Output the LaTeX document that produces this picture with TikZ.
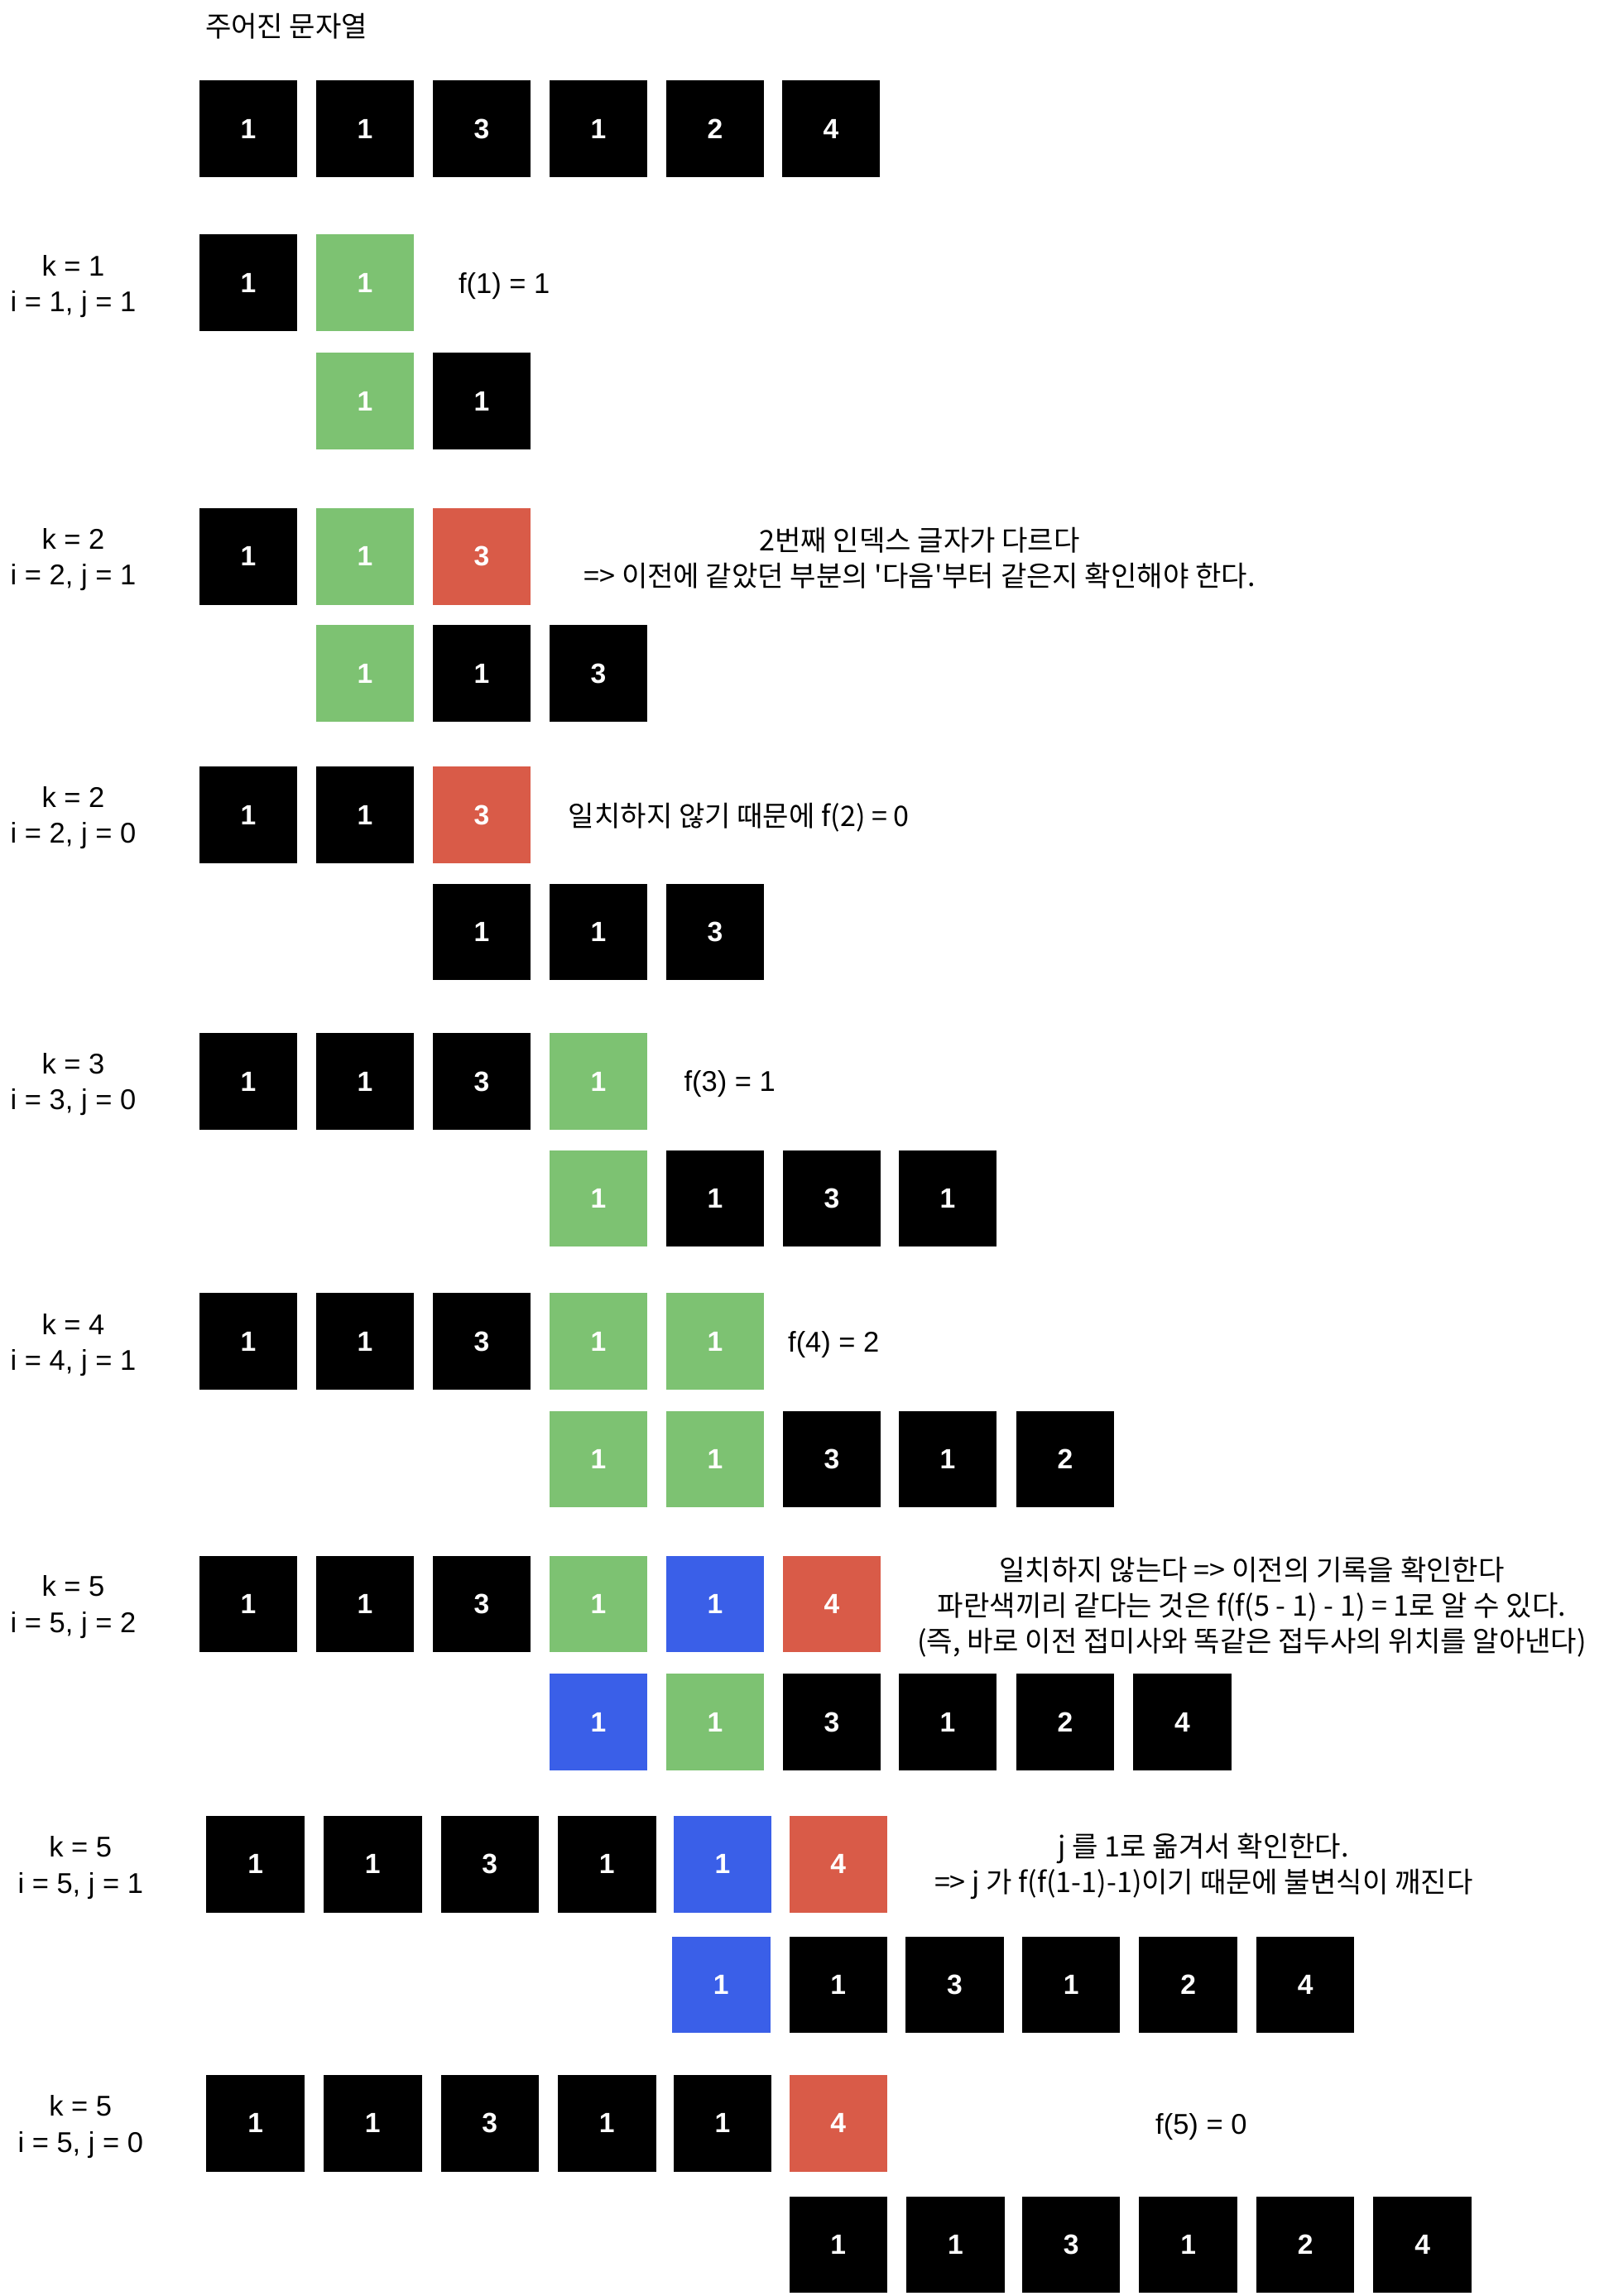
\documentclass[tikz,border=0pt]{standalone}
\usepackage{fontspec}
\setmainfont{Liberation Sans}
\newfontfamily\kr{Noto Sans CJK KR}
\definecolor{gn}{HTML}{7DC272}
\definecolor{rd}{HTML}{D95B48}
\definecolor{bl}{HTML}{3A5FE8}
\begin{document}
\begin{tikzpicture}[x=1pt,y=-1pt,
  bx/.style={minimum width=67pt,minimum height=66pt,inner sep=0pt,text=white,
    font=\fontsize{19}{19}\selectfont\bfseries},
  bk/.style={bx,fill=black},
  gb/.style={bx,fill=gn},
  rb/.style={bx,fill=rd},
  ub/.style={bx,fill=bl},
  lab/.style={align=center,inner sep=0pt,yshift=-1.5pt,font=\fontsize{19.5}{24.5}\selectfont},
  fx/.style={anchor=west,inner sep=0pt,yshift=-1.5pt,font=\fontsize{19.5}{24.5}\selectfont},
  note/.style={align=center,inner sep=0pt,yshift=-1.5pt,font=\kr\fontsize{19.3}{24.5}\selectfont}]
\useasboundingbox (0,0) rectangle (1095,1568);

% title
\node[anchor=west,inner sep=0pt,yshift=-1pt,font=\kr\fontsize{19.3}{24}\selectfont] (title) at (140,17) {주어진 문자열};

% row 0
\node[bk] (r0a) at (169.5,88) {1};
\node[bk] (r0b) at (249.2,88) {1};
\node[bk] (r0c) at (328.9,88) {3};
\node[bk] (r0d) at (408.6,88) {1};
\node[bk] (r0e) at (488.3,88) {2};
\node[bk] (r0f) at (567.5,88) {4};

% section 1
\node[lab] (l1) at (50,194) {k = 1\\i = 1, j = 1};
\node[bk] (s1a) at (169.5,193) {1};
\node[gb] (s1b) at (249.2,193) {1};
\node[fx] (t1) at (313,194) {f(1) = 1};
\node[gb] (s1c) at (249.2,274) {1};
\node[bk] (s1d) at (328.9,274) {1};

% section 2
\node[lab] (l2) at (50,380.5) {k = 2\\i = 2, j = 1};
\node[bk] (s2a) at (169.5,380) {1};
\node[gb] (s2b) at (249.2,380) {1};
\node[rb] (s2c) at (328.9,380) {3};
\node[note] (t2) at (628,379.5) {2번째 인덱스 글자가 다르다\\=> 이전에 같았던 부분의 '다음'부터 같은지 확인해야 한다.};
\node[gb] (s2d) at (249.2,460) {1};
\node[bk] (s2e) at (328.9,460) {1};
\node[bk] (s2f) at (408.6,460) {3};

% section 3
\node[lab] (l3) at (50,557) {k = 2\\i = 2, j = 0};
\node[bk] (s3a) at (169.5,556.5) {1};
\node[bk] (s3b) at (249.2,556.5) {1};
\node[rb] (s3c) at (328.9,556.5) {3};
\node[note,anchor=west] (t3) at (388,557) {일치하지 않기 때문에 f(2) = 0};
\node[bk] (s3d) at (328.9,636.5) {1};
\node[bk] (s3e) at (408.6,636.5) {1};
\node[bk] (s3f) at (488.3,636.5) {3};

% section 4
\node[lab] (l4) at (50,739) {k = 3\\i = 3, j = 0};
\node[bk] (s4a) at (169.5,738.5) {1};
\node[bk] (s4b) at (249.2,738.5) {1};
\node[bk] (s4c) at (328.9,738.5) {3};
\node[gb] (s4d) at (408.6,738.5) {1};
\node[fx] (t4) at (467,739) {f(3) = 1};
\node[gb] (s4e) at (408.6,818.5) {1};
\node[bk] (s4f) at (488.3,818.5) {1};
\node[bk] (s4g) at (568,818.5) {3};
\node[bk] (s4h) at (647.2,818.5) {1};

% section 5
\node[lab] (l5) at (50,917) {k = 4\\i = 4, j = 1};
\node[bk] (s5a) at (169.5,916) {1};
\node[bk] (s5b) at (249.2,916) {1};
\node[bk] (s5c) at (328.9,916) {3};
\node[gb] (s5d) at (408.6,916) {1};
\node[gb] (s5e) at (488.3,916) {1};
\node[fx] (t5) at (538,917) {f(4) = 2};
\node[gb] (s5f) at (408.6,996.5) {1};
\node[gb] (s5g) at (488.3,996.5) {1};
\node[bk] (s5h) at (568,996.5) {3};
\node[bk] (s5i) at (647.2,996.5) {1};
\node[bk] (s5j) at (727.4,996.5) {2};

% section 6
\node[lab] (l6) at (50,1096) {k = 5\\i = 5, j = 2};
\node[bk] (s6a) at (169.5,1095.5) {1};
\node[bk] (s6b) at (249.2,1095.5) {1};
\node[bk] (s6c) at (328.9,1095.5) {3};
\node[gb] (s6d) at (408.6,1095.5) {1};
\node[ub] (s6e) at (488.3,1095.5) {1};
\node[rb] (s6f) at (568,1095.5) {4};
\node[note] (t6) at (855,1096) {일치하지 않는다 => 이전의 기록을 확인한다\\파란색끼리 같다는 것은 f(f(5 - 1) - 1) = 1로 알 수 있다.\\(즉, 바로 이전 접미사와 똑같은 접두사의 위치를 알아낸다)};
\node[ub] (s6g) at (408.6,1176) {1};
\node[gb] (s6h) at (488.3,1176) {1};
\node[bk] (s6i) at (568,1176) {3};
\node[bk] (s6j) at (647.2,1176) {1};
\node[bk] (s6k) at (727.4,1176) {2};
\node[bk] (s6l) at (807.5,1176) {4};

% section 7
\node[lab] (l7) at (55,1274) {k = 5\\i = 5, j = 1};
\node[bk] (s7a) at (174.5,1273) {1};
\node[bk] (s7b) at (254.5,1273) {1};
\node[bk] (s7c) at (334.5,1273) {3};
\node[bk] (s7d) at (414.5,1273) {1};
\node[ub] (s7e) at (493.5,1273) {1};
\node[rb] (s7f) at (572.5,1273) {4};
\node[note] (t7) at (822,1273) {j 를 1로 옮겨서 확인한다.\\=> j 가 f(f(1-1)-1)이기 때문에 불변식이 깨진다};
\node[ub] (s7g) at (492.5,1355.5) {1};
\node[bk] (s7h) at (572.5,1355.5) {1};
\node[bk] (s7i) at (652,1355.5) {3};
\node[bk] (s7j) at (731.5,1355.5) {1};
\node[bk] (s7k) at (811.5,1355.5) {2};
\node[bk] (s7l) at (891.5,1355.5) {4};

% section 8
\node[lab] (l8) at (55,1451) {k = 5\\i = 5, j = 0};
\node[bk] (s8a) at (174.5,1450) {1};
\node[bk] (s8b) at (254.5,1450) {1};
\node[bk] (s8c) at (334.5,1450) {3};
\node[bk] (s8d) at (414.5,1450) {1};
\node[bk] (s8e) at (493.5,1450) {1};
\node[rb] (s8f) at (572.5,1450) {4};
\node[fx] (t8) at (789,1451) {f(5) = 0};
\node[bk] (s8g) at (572.5,1533) {1};
\node[bk] (s8h) at (652.5,1533) {1};
\node[bk] (s8i) at (731.5,1533) {3};
\node[bk] (s8j) at (811.5,1533) {1};
\node[bk] (s8k) at (891.5,1533) {2};
\node[bk] (s8l) at (971.5,1533) {4};
\end{tikzpicture}
\end{document}
